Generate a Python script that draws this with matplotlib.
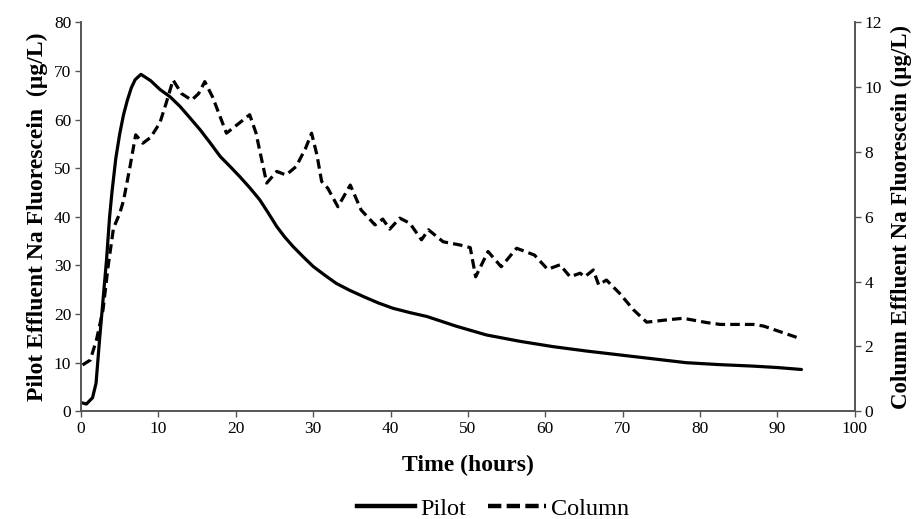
import matplotlib
matplotlib.use("Agg")
import matplotlib.pyplot as plt
from matplotlib.lines import Line2D

plt.rcParams['font.family'] = ['Liberation Serif', 'DejaVu Serif']

# Pilot effluent (left axis, ug/L)
pilot_t = [0, 0.7, 1.5, 1.95, 2.4, 2.85, 3.3, 3.7, 4.0, 4.5, 5.0, 5.5, 6.0, 6.5, 7.0, 7.75,
           9.0, 10.2, 11.5, 12.8, 14.0, 15.4, 16.7, 18.0, 19.3, 20.5, 21.8, 23.1, 24.2,
           25.3, 26.3, 27.4, 28.7, 30.0, 31.5, 33.0, 34.7, 36.5, 38.4, 40.3, 42.5, 44.7,
           48.5, 52.4, 56.7, 61.0, 65.3, 69.6, 73.9, 78.2, 82.5, 86.8, 90.0, 93.1]
pilot_v = [1.8, 1.5, 2.8, 5.8, 14.7, 22.9, 31.1, 40.0, 45.0, 52.0, 57.0, 61.0, 64.0, 66.5, 68.2, 69.3,
           68.0, 66.2, 64.7, 62.7, 60.5, 57.9, 55.2, 52.4, 50.3, 48.3, 46.0, 43.5, 40.8,
           38.0, 35.9, 33.9, 31.8, 29.8, 28.0, 26.3, 24.9, 23.6, 22.3, 21.2, 20.3, 19.5,
           17.5, 15.7, 14.4, 13.3, 12.4, 11.6, 10.8, 10.0, 9.6, 9.3, 9.0, 8.6]

# Column effluent (right axis, ug/L)
column_t = [0.2, 1.2, 2.0, 2.85, 3.5, 4.2, 5.0, 5.5, 6.3, 7.07, 8.0, 9.0, 10.2, 11.0, 11.9,
            13.0, 14.3, 15.2, 16.0, 17.0, 18.8, 20.5, 21.8, 22.6, 24.0, 25.3, 26.5, 27.8,
            29.0, 29.8, 30.5, 31.1, 31.9, 33.2, 34.8, 36.2, 38.0, 39.0, 39.9, 41.2, 42.5,
            44.0, 44.9, 46.8, 49.0, 50.3, 51.0, 52.6, 54.3, 56.3, 58.6, 60.3, 61.9,
            63.2, 64.5, 65.1, 66.2, 66.9, 67.9, 69.6, 71.4, 73.1, 75.7, 77.8, 80.8,
            82.6, 86.9, 88.2, 92.5]
column_v = [1.43, 1.58, 2.2, 3.13, 4.46, 5.65, 6.1, 6.5, 7.5, 8.53, 8.27, 8.45, 8.9, 9.5, 10.22,
            9.8, 9.6, 9.8, 10.17, 9.7, 8.58, 8.9, 9.15, 8.6, 7.04, 7.4, 7.29, 7.55,
            8.1, 8.58, 7.9, 7.09, 6.88, 6.31, 6.98, 6.21, 5.75, 5.93, 5.62, 5.96, 5.8,
            5.29, 5.6, 5.23, 5.13, 5.05, 4.15, 4.93, 4.46, 5.03, 4.82, 4.38, 4.52,
            4.15, 4.26, 4.15, 4.36, 3.9, 4.05, 3.64, 3.13, 2.75, 2.82, 2.87, 2.74,
            2.68, 2.68, 2.63, 2.28]

x_ticks = list(range(0, 101, 10))
left_ticks = list(range(0, 81, 10))
right_ticks = list(range(0, 13, 2))

fig = plt.figure(figsize=(9.18, 5.19), dpi=100)
ax = fig.add_axes([0.0882, 0.2075, 0.843, 0.7495])
ax2 = ax.twinx()

spine_col = '#555555'
ax.plot(pilot_t, pilot_v, color='black', lw=2.3, solid_capstyle='round', solid_joinstyle='round')
ax2.plot(column_t, column_v, color='black', lw=2.3, dashes=(3.0, 1.6))

ax.set_xlim(0, 100)
ax.set_ylim(0, 80)
ax2.set_ylim(0, 12)
ax.set_xticks(x_ticks)
ax.set_yticks(left_ticks)
ax2.set_yticks(right_ticks)

for a in (ax, ax2):
    a.spines['top'].set_visible(False)
    for s in ('left', 'right', 'bottom'):
        a.spines[s].set_color(spine_col)
        a.spines[s].set_linewidth(1.2)
    a.tick_params(axis='both', direction='out', length=4, width=1.0, color=spine_col,
                  labelsize=12.5, pad=3)

ax.set_xlabel('Time (hours)', fontsize=17, fontweight='bold', labelpad=13)
ax.set_ylabel('Pilot Effluent Na Fluorescein  (\u00b5g/L)', fontsize=17, fontweight='bold', labelpad=4)
ax2.set_ylabel('Column Effluent Na Fluorescein (\u00b5g/L)', fontsize=16.5, fontweight='bold', labelpad=6)

handles = [Line2D([0], [0], color='black', lw=3.2),
           Line2D([0], [0], color='black', lw=3.2, dashes=(3.0, 1.2))]
fig.legend(handles, ['Pilot', 'Column'], loc='center', bbox_to_anchor=(0.537, 0.02),
           ncol=2, frameon=False, fontsize=17.5, handlelength=2.4, handletextpad=0.2,
           columnspacing=0.9, borderpad=0.0)

fig.savefig('out.png', dpi=100)
